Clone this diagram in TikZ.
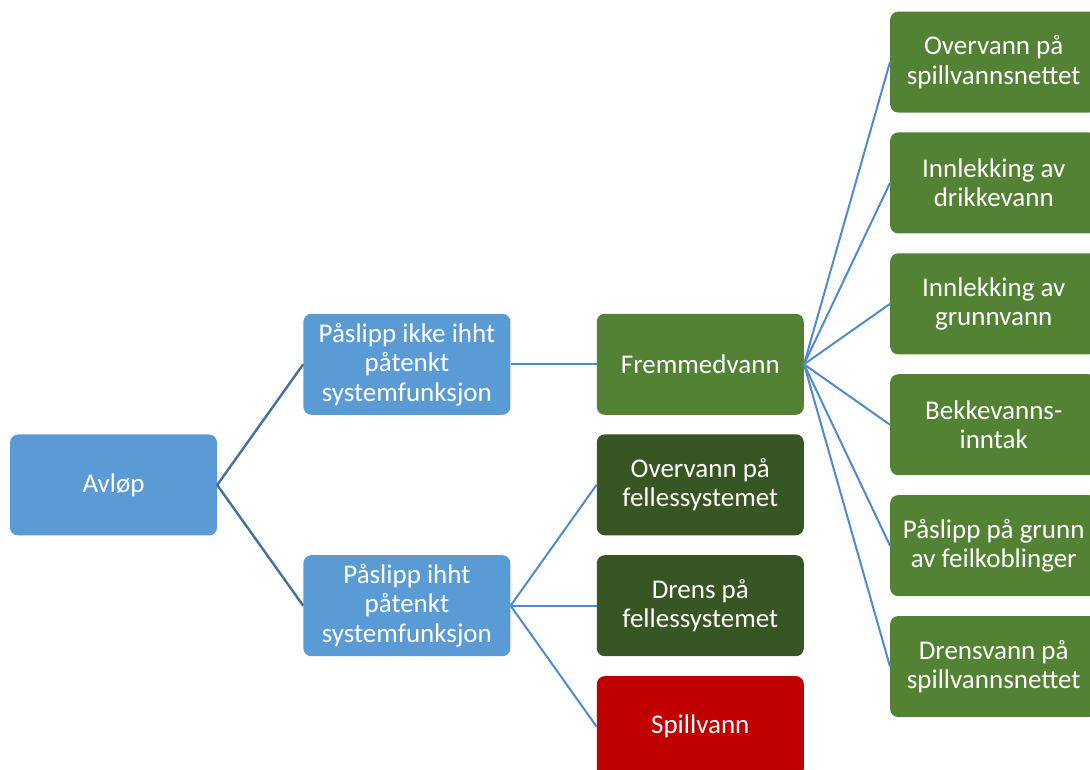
\documentclass[tikz,border=0pt]{standalone}
\usepackage{fontspec}
\setmainfont{Carlito}
\usetikzlibrary{positioning}

\definecolor{boxblue}{HTML}{5B9BD5}
\definecolor{boxgreen}{HTML}{548235}
\definecolor{boxdark}{HTML}{375623}
\definecolor{boxred}{HTML}{C00000}
\definecolor{linedark}{HTML}{41719C}
\definecolor{lineblue}{HTML}{4F8BCB}

\begin{document}
\begin{tikzpicture}[x=1pt, y=1pt,
   node distance=19.5pt and 86pt,
   box/.style = {rectangle, rounded corners=8pt, minimum width=207pt,
      minimum height=101pt, inner sep=0pt, align=center, text=white,
      font=\fontsize{27}{29.5}\selectfont},
   bluebox/.style  = {box, fill=boxblue},
   greenbox/.style = {box, fill=boxgreen},
   darkbox/.style  = {box, fill=boxdark},
   redbox/.style   = {box, fill=boxred},
   mainlink/.style = {draw=linedark, line width=2.4pt},
   link/.style     = {draw=lineblue, line width=2pt}]

   \useasboundingbox (0,0) rectangle (1090,769);

   % root
   \node[bluebox] (avlop) at (113.5,284) {Avløp};

   % second level
   \node[bluebox, above right=70pt and 86pt of avlop.east, anchor=south west] (ikke)
      {Påslipp ikke ihht\\påtenkt\\systemfunksjon};
   \node[bluebox, below right=70pt and 86pt of avlop.east, anchor=north west] (ihht)
      {Påslipp ihht\\påtenkt\\systemfunksjon};

   % third level
   \node[greenbox, right=of ikke] (fremmed) {Fremmedvann};
   \node[darkbox, right=of ihht]  (drensfelles) {Drens på\\fellessystemet};
   \node[darkbox, above=of drensfelles] (overfelles) {Overvann på\\fellessystemet};
   \node[redbox, below=of drensfelles]  (spill) {Spillvann};

   % fourth level
   \node[greenbox, below right=9.75pt and 86pt of fremmed.east, anchor=north west] (bekk)
      {Bekkevanns-\\inntak};
   \node[greenbox, above=of bekk]  (grunn) {Innlekking av\\grunnvann};
   \node[greenbox, above=of grunn] (drikke) {Innlekking av\\drikkevann};
   \node[greenbox, above=of drikke] (overspill) {Overvann på\\spillvannsnettet};
   \node[greenbox, below=of bekk]  (feil) {Påslipp på grunn\\av feilkoblinger};
   \node[greenbox, below=of feil]  (drensspill) {Drensvann på\\spillvannsnettet};

   % connectors
   \draw[mainlink] (avlop.east) -- (ikke.west);
   \draw[mainlink] (avlop.east) -- (ihht.west);
   \draw[link] (ikke.east) -- (fremmed.west);
   \foreach \n in {overfelles, drensfelles, spill}
      \draw[link] (ihht.east) -- (\n.west);
   \foreach \n in {overspill, drikke, grunn, bekk, feil, drensspill}
      \draw[link] (fremmed.east) -- (\n.west);

\end{tikzpicture}
\end{document}
